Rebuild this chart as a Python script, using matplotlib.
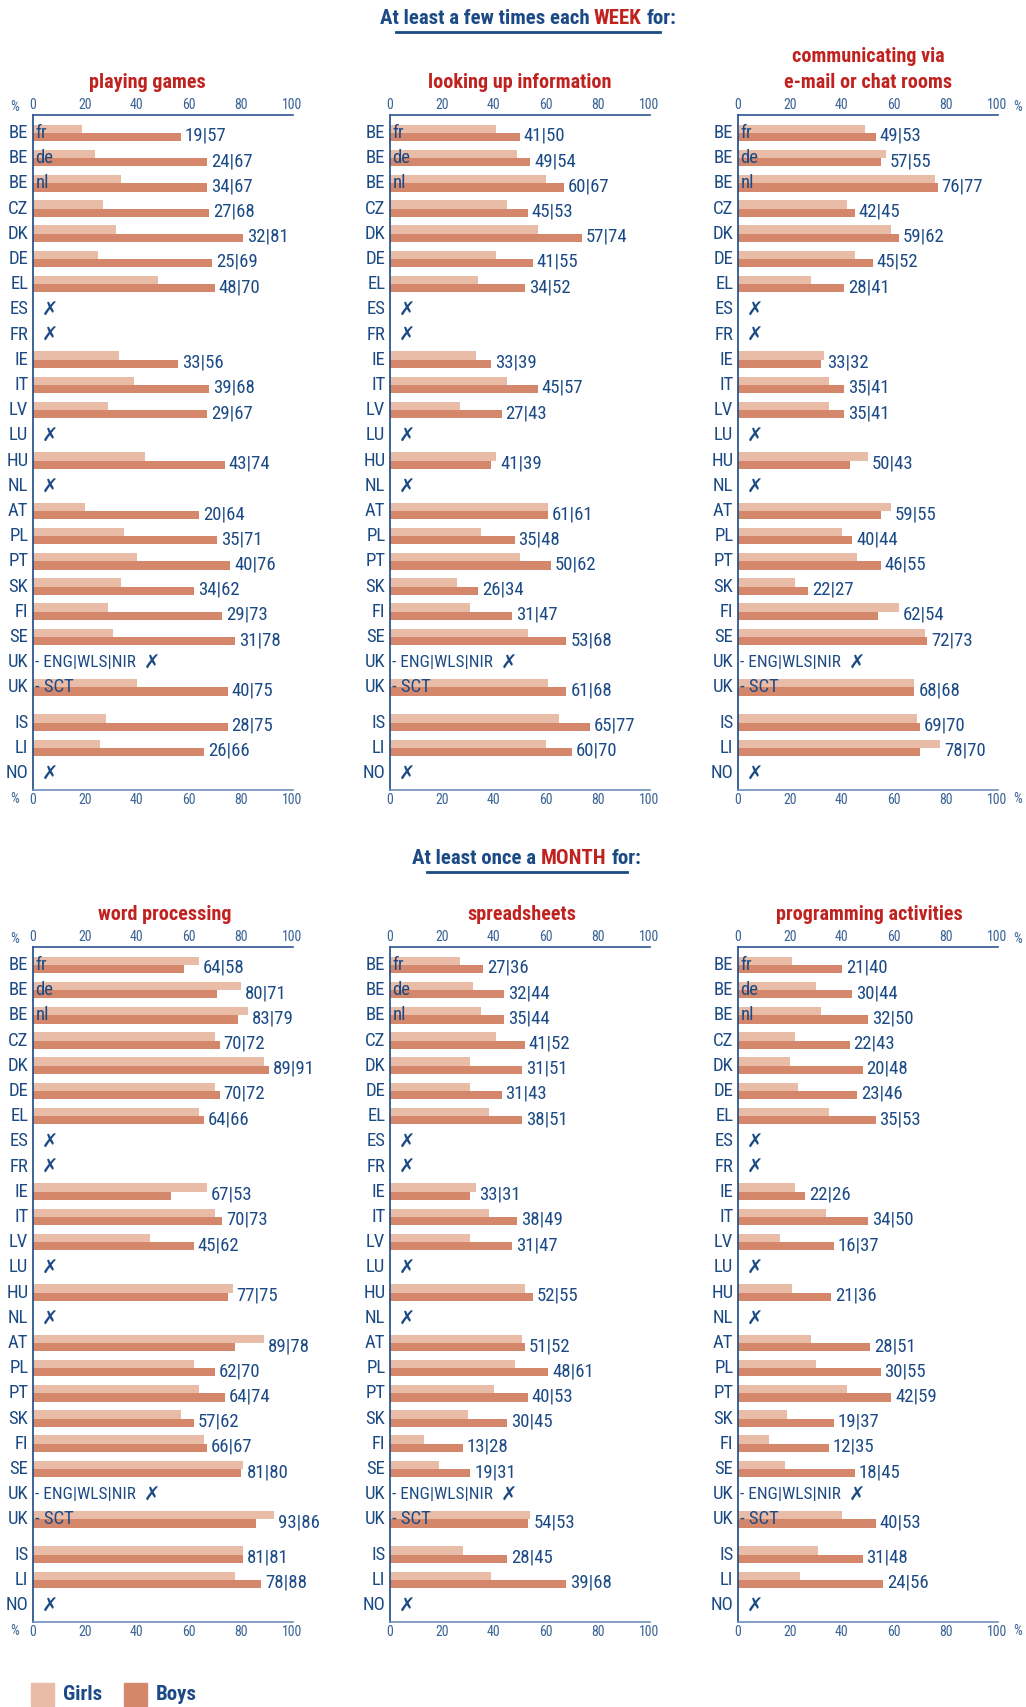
import matplotlib
matplotlib.use('Agg')
import matplotlib.pyplot as plt
from matplotlib import font_manager as fm
from matplotlib.lines import Line2D
from matplotlib.patches import Rectangle
from matplotlib.offsetbox import TextArea, HPacker, AnnotationBbox

# pick a condensed face if the box has one (the original uses a condensed sans)
_cond_names = ['Liberation Sans Narrow', 'Roboto Condensed', 'Open Sans Condensed',
               'Noto Sans Condensed', 'DejaVu Sans Condensed', 'Arial Narrow']
_have = {f.name for f in fm.fontManager.ttflist}
FAMILY, STRETCH, SCALE = 'DejaVu Sans', 'normal', 0.8
for nm in _cond_names:
    if nm in _have:
        FAMILY, STRETCH, SCALE = nm, 'normal', 1.0
        break
else:
    for f in fm.fontManager.ttflist:
        st = str(f.stretch).lower()
        if 'condensed' in st or 'narrow' in f.name.lower():
            FAMILY, STRETCH, SCALE = f.name, st, 1.0
            if f.name in ('DejaVu Sans', 'Noto Sans', 'Open Sans', 'Roboto'):
                break

plt.rcParams['font.family'] = [FAMILY, 'DejaVu Sans']
plt.rcParams['font.stretch'] = STRETCH

W, H = 1026, 1707
NAVY = '#1b4a85'
TICK = '#3a6396'
RED = '#c0231f'
GIRL = '#e8bca7'
BOY = '#d5876b'

# ---- data (girls | boys, %); None = no data ----
countries = ['BE', 'BE', 'BE', 'CZ', 'DK', 'DE', 'EL', 'ES', 'FR', 'IE', 'IT',
             'LV', 'LU', 'HU', 'NL', 'AT', 'PL', 'PT', 'SK', 'FI', 'SE',
             'UK', 'UK', 'IS', 'LI', 'NO']
sublabels = ['fr', 'de', 'nl'] + [''] * 18 + ['- ENG|WLS|NIR', '- SCT', '', '', '']

N = None
games_girls = [19, 24, 34, 27, 32, 25, 48, N, N, 33, 39, 29, N, 43, N, 20, 35, 40, 34, 29, 31, N, 40, 28, 26, N]
games_boys = [57, 67, 67, 68, 81, 69, 70, N, N, 56, 68, 67, N, 74, N, 64, 71, 76, 62, 73, 78, N, 75, 75, 66, N]

info_girls = [41, 49, 60, 45, 57, 41, 34, N, N, 33, 45, 27, N, 41, N, 61, 35, 50, 26, 31, 53, N, 61, 65, 60, N]
info_boys = [50, 54, 67, 53, 74, 55, 52, N, N, 39, 57, 43, N, 39, N, 61, 48, 62, 34, 47, 68, N, 68, 77, 70, N]

comm_girls = [49, 57, 76, 42, 59, 45, 28, N, N, 33, 35, 35, N, 50, N, 59, 40, 46, 22, 62, 72, N, 68, 69, 78, N]
comm_boys = [53, 55, 77, 45, 62, 52, 41, N, N, 32, 41, 41, N, 43, N, 55, 44, 55, 27, 54, 73, N, 68, 70, 70, N]

word_girls = [64, 80, 83, 70, 89, 70, 64, N, N, 67, 70, 45, N, 77, N, 89, 62, 64, 57, 66, 81, N, 93, 81, 78, N]
word_boys = [58, 71, 79, 72, 91, 72, 66, N, N, 53, 73, 62, N, 75, N, 78, 70, 74, 62, 67, 80, N, 86, 81, 88, N]

sheet_girls = [27, 32, 35, 41, 31, 31, 38, N, N, 33, 38, 31, N, 52, N, 51, 48, 40, 30, 13, 19, N, 54, 28, 39, N]
sheet_boys = [36, 44, 44, 52, 51, 43, 51, N, N, 31, 49, 47, N, 55, N, 52, 61, 53, 45, 28, 31, N, 53, 45, 68, N]

prog_girls = [21, 30, 32, 22, 20, 23, 35, N, N, 22, 34, 16, N, 21, N, 28, 30, 42, 19, 12, 18, N, 40, 31, 24, N]
prog_boys = [40, 44, 50, 43, 48, 46, 53, N, N, 26, 50, 37, N, 36, N, 51, 55, 59, 37, 35, 45, N, 53, 48, 56, N]

# row layout: small gap before the EFTA countries
rows = list(range(23)) + [23.4, 24.4, 25.4]

FS = 13.5 * SCALE        # country / value labels
FS_TICK = 10 * SCALE

fig = plt.figure(figsize=(W / 100, H / 100), dpi=100)


def px_axes(x0, top, width=259.5, height=675):
    return fig.add_axes([x0 / W, 1 - (top + height) / H, width / W, height / H])


def draw_panel(ax, girls, boys, pct):
    bh = 0.33
    for i, (g, b) in enumerate(zip(girls, boys)):
        y = rows[i]
        eng = 'ENG' in sublabels[i]
        if g is None:
            xm = 46 if eng else 6.6
            ax.text(xm, y + 0.05, '\u2717', ha='center', va='center', color=NAVY,
                    fontsize=14, fontweight='bold', family='DejaVu Sans',
                    stretch='normal')
        else:
            ax.barh(y - bh / 2, g, height=bh, color=GIRL, zorder=2)
            ax.barh(y + bh / 2, b, height=bh, color=BOY, zorder=2)
            ax.text(max(g, b) + 1.5, y + 0.12, f'{g}|{b}', ha='left', va='center',
                    color=NAVY, fontsize=FS)
        ax.text(-1.8, y, countries[i], ha='right', va='center', color=NAVY, fontsize=FS)
        if sublabels[i]:
            # the long UK label is squeezed a little so it stays clear of the cross
            ax.text(0.9, y, sublabels[i], ha='left', va='center', color=NAVY,
                    fontsize=FS * (0.92 if eng else 1.0), zorder=3)

    ax.set_xlim(0, 100)
    ax.set_ylim(26.07, -0.71)
    ax.set_yticks([])
    ax.set_xticks([0, 20, 40, 60, 80, 100])
    ax.tick_params(axis='x', length=0, labeltop=True, labelbottom=True,
                   labelsize=FS_TICK, labelcolor=TICK, pad=2.5)
    ax.spines['right'].set_visible(False)
    ax.spines['left'].set_color(NAVY)
    ax.spines['top'].set_color('#2c5790')
    ax.spines['bottom'].set_color('#6e8fba')
    for s in ('left', 'top', 'bottom'):
        ax.spines[s].set_linewidth(1.2)
    ax.patch.set_alpha(0)
    if pct:
        xa, dx = (0, -18) if pct == 'left' else (1, 20)
        for yy, dy in ((1, 8), (0, -9)):
            ax.annotate('%', xy=(xa, yy), xycoords='axes fraction', xytext=(dx, dy),
                        textcoords='offset pixels', ha='center', va='center',
                        color=TICK, fontsize=FS_TICK)


def mixed_title(parts, xc, yc, x0, x1, yline):
    boxes = [TextArea(t, textprops=dict(color=c, fontsize=15 * SCALE, fontweight='bold'))
             for t, c in parts]
    pack = HPacker(children=boxes, align='baseline', pad=0, sep=3.5)
    ab = AnnotationBbox(pack, (xc / W, 1 - yc / H), xycoords='figure fraction',
                        frameon=False, box_alignment=(0.5, 0.5))
    fig.add_artist(ab)
    fig.add_artist(Line2D([x0 / W, x1 / W], [1 - yline / H] * 2,
                          transform=fig.transFigure, color=NAVY, lw=2))


def panel_title(txt, xc, yc):
    fig.text(xc / W, 1 - yc / H, txt, ha='center', va='center', color=RED,
             fontsize=14.5 * SCALE, fontweight='bold')


xs = [33, 390, 738]
panels_top = [(games_girls, games_boys), (info_girls, info_boys), (comm_girls, comm_boys)]
panels_bot = [(word_girls, word_boys), (sheet_girls, sheet_boys), (prog_girls, prog_boys)]
pcts = ['left', None, 'right']

for x0, (g, b), p in zip(xs, panels_top, pcts):
    draw_panel(px_axes(x0, 115), g, b, p)
for x0, (g, b), p in zip(xs, panels_bot, pcts):
    draw_panel(px_axes(x0, 947), g, b, p)

mixed_title([('At least a few times each', NAVY), ('WEEK', RED), ('for:', NAVY)],
            528, 18.5, 396, 660, 32)
mixed_title([('At least once a', NAVY), ('MONTH', RED), ('for:', NAVY)],
            527, 859, 427, 627, 872)

panel_title('playing games', 147, 83)
panel_title('looking up information', 520, 83)
panel_title('communicating via', 868, 57)
panel_title('e-mail or chat rooms', 868, 83)
panel_title('word processing', 165, 914)
panel_title('spreadsheets', 522, 914)
panel_title('programming activities', 869, 914)

# legend
for x0, c, lab in ((31, GIRL, 'Girls'), (124, BOY, 'Boys')):
    fig.add_artist(Rectangle((x0 / W, 1 - 1706 / H), 23 / W, 23 / H,
                             transform=fig.transFigure, color=c))
    fig.text((x0 + 32) / W, 1 - 1695 / H, lab, ha='left', va='center',
             color=NAVY, fontsize=15 * SCALE, fontweight='bold')

fig.savefig('out.png', dpi=100)
